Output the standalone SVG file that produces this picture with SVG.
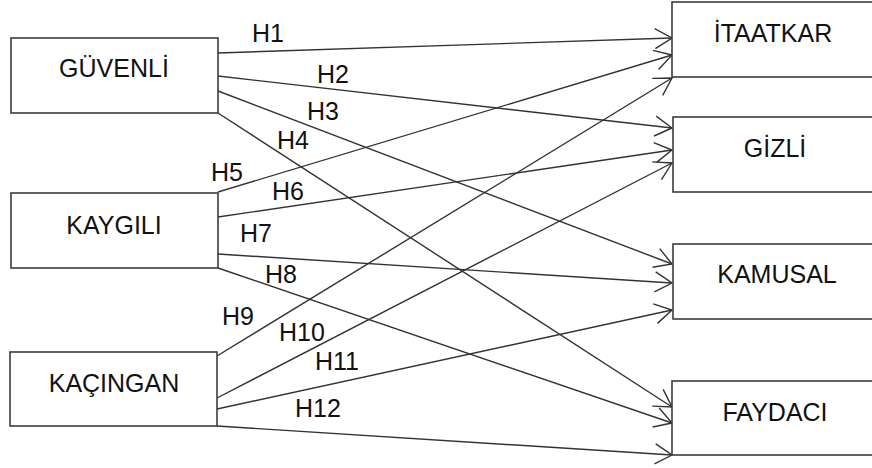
<svg xmlns="http://www.w3.org/2000/svg" width="872" height="468" viewBox="0 0 872 468">
<defs>
<style>
.box{fill:#fff;stroke:#3c3c3c;stroke-width:1.6}
.lbl{font-family:"Liberation Sans",Arial,sans-serif;font-size:25px;fill:#111;text-anchor:middle}
.h{font-family:"Liberation Sans",Arial,sans-serif;font-size:25px;fill:#111}
.edge{stroke:#333;stroke-width:1.4;fill:none;marker-end:url(#arr)}
</style>
<marker id="arr" markerUnits="userSpaceOnUse" viewBox="-20 -12 22 24" refX="0" refY="0" markerWidth="22" markerHeight="24" orient="auto" overflow="visible">
<path d="M-17,-10 L0,0 L-17,10" fill="none" stroke="#333" stroke-width="1.4"/>
</marker>
</defs>
<rect width="872" height="468" fill="#fff"/>
<g id="connectors">
<line class="edge" x1="218" y1="53" x2="672" y2="38"/>
<line class="edge" x1="218" y1="76" x2="672" y2="128"/>
<line class="edge" x1="218" y1="91" x2="672" y2="264"/>
<line class="edge" x1="218" y1="113" x2="672" y2="407"/>
<line class="edge" x1="218" y1="192" x2="672" y2="55"/>
<line class="edge" x1="218" y1="217" x2="672" y2="150"/>
<line class="edge" x1="218" y1="254" x2="672" y2="283"/>
<line class="edge" x1="218" y1="268" x2="672" y2="423"/>
<line class="edge" x1="217" y1="356" x2="672" y2="78"/>
<line class="edge" x1="217" y1="398" x2="672" y2="163"/>
<line class="edge" x1="217" y1="409" x2="672" y2="310"/>
<line class="edge" x1="217" y1="426" x2="672" y2="455"/>
<text class="h" x="252" y="42">H1</text>
<text class="h" x="317" y="83">H2</text>
<text class="h" x="307" y="120">H3</text>
<text class="h" x="277" y="149">H4</text>
<text class="h" x="211" y="181">H5</text>
<text class="h" x="272" y="200">H6</text>
<text class="h" x="240" y="242">H7</text>
<text class="h" x="265" y="283">H8</text>
<text class="h" x="222" y="325">H9</text>
<text class="h" x="279" y="341">H10</text>
<text class="h" x="315" y="370">H11</text>
<text class="h" x="295" y="417">H12</text>
</g>
<g id="guvenli"><rect class="box" x="11" y="38" width="207" height="75"/><text class="lbl" x="114" y="77">GÜVENLİ</text></g>
<g id="kaygili"><rect class="box" x="11" y="193" width="207" height="75"/><text class="lbl" x="114" y="234">KAYGILI</text></g>
<g id="kacingan"><rect class="box" x="10" y="352" width="207" height="74"/><text class="lbl" x="114" y="392">KAÇINGAN</text></g>
<g id="itaatkar"><rect class="box" x="672" y="2" width="210" height="75"/><text class="lbl" x="773" y="42">İTAATKAR</text></g>
<g id="gizli"><rect class="box" x="673" y="117" width="210" height="75"/><text class="lbl" x="775" y="157">GİZLİ</text></g>
<g id="kamusal"><rect class="box" x="673" y="244" width="210" height="75"/><text class="lbl" x="777" y="283">KAMUSAL</text></g>
<g id="faydaci"><rect class="box" x="672" y="381" width="210" height="74"/><text class="lbl" x="775" y="421">FAYDACI</text></g>
</svg>
